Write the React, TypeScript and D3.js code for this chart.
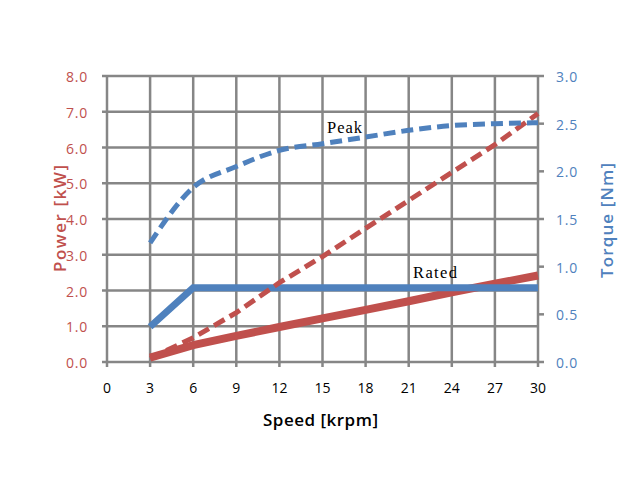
import React from "react";
import * as d3 from "d3";

const speeds = [3, 6, 9, 12, 15, 18, 21, 24, 27, 30];
const peakPower = [0.1, 0.68, 1.38, 2.22, 2.95, 3.74, 4.52, 5.3, 6.08, 6.95];
const ratedPower = [0.12, 0.47, 0.73, 0.98, 1.22, 1.46, 1.7, 1.95, 2.19, 2.42];
const peakTorque = [1.25, 1.83, 2.05, 2.22, 2.29, 2.36, 2.43, 2.48, 2.5, 2.51];
const ratedTorque = [0.37, 0.78, 0.78, 0.78, 0.78, 0.78, 0.78, 0.78, 0.78, 0.78];
const xTicks = [0, 3, 6, 9, 12, 15, 18, 21, 24, 27, 30];
const leftTicks = [0, 1, 2, 3, 4, 5, 6, 7, 8];
const rightTicks = [0, 0.5, 1, 1.5, 2, 2.5, 3];

const RED = "#C0504D";
const BLUE = "#4F81BD";
const GRID = "#868686";
const FONT = "'Open Sans', Lato, sans-serif";
const SERIF = "'Liberation Serif', 'Times New Roman', serif";

export default function App() {
  const W = 636, H = 490;
  const x = d3.scaleLinear().domain([0, 30]).range([107, 538]);
  const yL = d3.scaleLinear().domain([0, 8]).range([362, 76]);
  const yR = d3.scaleLinear().domain([0, 3]).range([362, 76]);
  const lineL = (vals: number[]) =>
    d3.line<number>().x((_, i) => x(speeds[i])).y((d) => yL(d))(vals) || "";
  const lineR = (vals: number[]) =>
    d3.line<number>().x((_, i) => x(speeds[i])).y((d) => yR(d))(vals) || "";
  const peakTorquePath =
    d3.line<number>().x((_, i) => x(speeds[i])).y((d) => yR(d)).curve(d3.curveMonotoneX)(peakTorque) || "";

  return (
    <svg width={W} height={H} style={{ position: "absolute", left: 0, top: 0, background: "#fff" }}>
      {/* grid */}
      {leftTicks.map((t) => (
        <line key={"h" + t} x1={102} x2={538} y1={yL(t)} y2={yL(t)} stroke={GRID} strokeWidth={2.5} />
      ))}
      {xTicks.map((t) => (
        <line key={"v" + t} x1={x(t)} x2={x(t)} y1={76} y2={367} stroke={GRID} strokeWidth={2.5} />
      ))}
      {rightTicks.map((t) => (
        <line key={"r" + t} x1={538} x2={544} y1={yR(t)} y2={yR(t)} stroke={GRID} strokeWidth={2.5} />
      ))}

      {/* series */}
      <path d={lineL(ratedPower)} fill="none" stroke={RED} strokeWidth={8} />
      <path d={lineR(ratedTorque)} fill="none" stroke={BLUE} strokeWidth={7} />
      <path d={lineL(peakPower)} fill="none" stroke={RED} strokeWidth={5} strokeDasharray="12 6" />
      <path d={peakTorquePath} fill="none" stroke={BLUE} strokeWidth={5} strokeDasharray="12 6" />

      {/* labels */}
      <text x={327} y={133} fontFamily={SERIF} fontSize={16.5} textLength={35} lengthAdjust="spacing" fill="#000">Peak</text>
      <text x={413} y={278} fontFamily={SERIF} fontSize={16.5} textLength={44} lengthAdjust="spacing" fill="#000">Rated</text>

      {/* tick labels */}
      {leftTicks.map((t) => (
        <text key={"lt" + t} x={88} y={yL(t) + 6} textAnchor="end" fontFamily={FONT} fontSize={14} letterSpacing={0.8} fill={RED}>
          {t.toFixed(1)}
        </text>
      ))}
      {rightTicks.map((t) => (
        <text key={"rt" + t} x={556} y={yR(t) + 6} textAnchor="start" fontFamily={FONT} fontSize={14} letterSpacing={0.8} fill={BLUE}>
          {t.toFixed(1)}
        </text>
      ))}
      {xTicks.map((t) => (
        <text key={"xt" + t} x={x(t)} y={393} textAnchor="middle" fontFamily={FONT} fontSize={14} fill="#000">
          {t}
        </text>
      ))}

      {/* axis titles */}
      <text x={263} y={426} fontFamily={FONT} fontSize={17} fontWeight={600} textLength={115} lengthAdjust="spacing" fill="#000">
        Speed [krpm]
      </text>
      <text transform={`translate(66,272) rotate(-90)`} fontFamily={FONT} fontSize={17} fontWeight={600} textLength={107} lengthAdjust="spacing" fill={RED}>
        Power [kW]
      </text>
      <text transform={`translate(613,278) rotate(-90)`} fontFamily={FONT} fontSize={17} fontWeight={600} textLength={115} lengthAdjust="spacing" fill={BLUE}>
        Torque [Nm]
      </text>
    </svg>
  );
}
